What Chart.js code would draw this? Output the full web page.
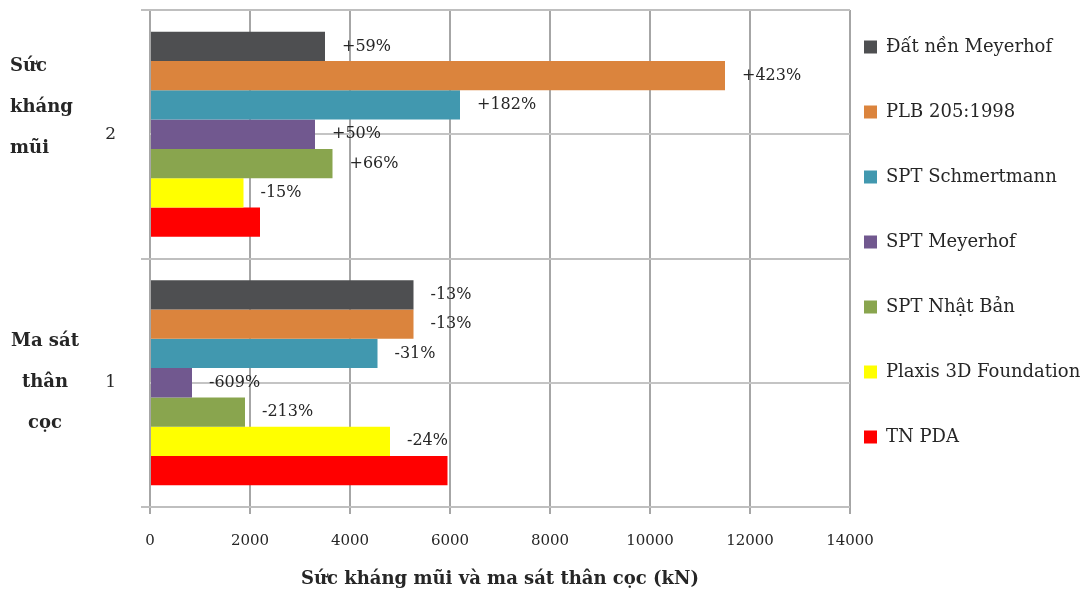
<!DOCTYPE HTML>
<html lang="vi">
<head>
    <meta charset="utf-8">
    <script src="https://cdn.jsdelivr.net/npm/chart.js@4.4.1/dist/chart.umd.min.js"></script>
    <style>
        body { margin: 0; background: #fff; }
        #khung { width: 1089px; height: 592px; }
    </style>
</head>
<body>
    <div id="khung"><canvas id="bieu-do-coc"></canvas></div>
<script>
    // nhóm trên trục: 2 = sức kháng mũi, 1 = ma sát thân cọc
    const nhom = ['2', '1']
    const tieuDeNhom = [['Sức', 'kháng', 'mũi'], ['Ma sát', 'thân', 'cọc']]

    const tenPhuongPhap = ['Đất nền Meyerhof', 'PLB 205:1998', 'SPT Schmertmann', 'SPT Meyerhof', 'SPT Nhật Bản', 'Plaxis 3D Foundation', 'TN PDA']

    // giá trị (kN) theo thứ tự nhóm [2, 1]
    const datNenMeyerhof = [3500, 5270]
    const plb205 = [11500, 5270]
    const sptSchmertmann = [6200, 4550]
    const sptMeyerhof = [3300, 840]
    const sptNhatBan = [3650, 1900]
    const plaxis3D = [1870, 4800]
    const tnPda = [2200, 5950]

    // chênh lệch so với TN PDA, theo thứ tự phương pháp
    const chenhLechMui = ['+59%', '+423%', '+182%', '+50%', '+66%', '-15%', '']
    const chenhLechThan = ['-13%', '-13%', '-31%', '-609%', '-213%', '-24%', '']

    const mocTrucX = [0, 2000, 4000, 6000, 8000, 10000, 12000, 14000]
    const tieuDeTrucX = 'Sức kháng mũi và ma sát thân cọc (kN)'

    const mau = ['#4e4f51', '#db843d', '#4198af', '#71588f', '#89a54e', '#ffff00', '#ff0000']
    const giaTri = [datNenMeyerhof, plb205, sptSchmertmann, sptMeyerhof, sptNhatBan, plaxis3D, tnPda]
    const chenhLech = [chenhLechMui, chenhLechThan]

    const FONT = '"DejaVu Serif", "Liberation Serif", serif'
    const MAU_CHU = '#262626'
    const CO_CHU_GIAI = 18

    // giữ mép phải vùng vẽ ở x = 850: chú giải rộng 239px
    const doChu = document.createElement('canvas').getContext('2d')
    doChu.font = CO_CHU_GIAI + 'px ' + FONT
    const rongChu = Math.max(...tenPhuongPhap.map(t => doChu.measureText(t).width))
    const rongGiai = 14 + 13 + CO_CHU_GIAI / 2 + rongChu + 10
    const demPhai = Math.max(0, 239 - rongGiai)

    const veNhan = {
        id: 'veNhan',
        afterDatasetsDraw(chart) {
            const ctx = chart.ctx
            ctx.save()
            ctx.fillStyle = MAU_CHU
            ctx.textBaseline = 'middle'
            ctx.textAlign = 'left'
            ctx.font = '16px ' + FONT
            chart.data.datasets.forEach((ds, i) => {
                chart.getDatasetMeta(i).data.forEach((cot, j) => {
                    const nhan = chenhLech[j][i]
                    if (nhan) ctx.fillText(nhan, cot.x + 17, cot.y)
                })
            })

            // tiêu đề nhóm bên trái
            const truc = chart.scales.y
            ctx.font = 'bold 18px ' + FONT
            const yMui = truc.getPixelForValue(0)
            ctx.textAlign = 'left'
            tieuDeNhom[0].forEach((dong, k) => ctx.fillText(dong, 10, yMui - 68 + k * 41))
            const yThan = truc.getPixelForValue(1)
            ctx.textAlign = 'center'
            tieuDeNhom[1].forEach((dong, k) => ctx.fillText(dong, 45, yThan - 41 + k * 41))
            ctx.restore()
        }
    }

    const crearDatos = () => tenPhuongPhap.map((ten, i) => ({
        label: ten,
        data: giaTri[i],
        backgroundColor: mau[i],
        borderWidth: 0,
        categoryPercentage: 0.825,
        barPercentage: 1
    }))

    new Chart(document.querySelector('#bieu-do-coc'), {
        type: 'bar',
        data: { labels: nhom, datasets: crearDatos() },
        options: {
            indexAxis: 'y',
            responsive: true,
            maintainAspectRatio: false,
            animation: false,
            layout: { padding: { top: 10, left: 0, right: demPhai, bottom: 0 } },
            scales: {
                x: {
                    min: 0,
                    max: 14000,
                    afterBuildTicks: s => { s.ticks = mocTrucX.map(v => ({ value: v })) },
                    afterFit: s => { s.height = 85 },
                    grid: { color: '#a6a6a6', lineWidth: 2, tickLength: 7 },
                    border: { display: false },
                    ticks: {
                        font: { family: FONT, size: 15 },
                        color: MAU_CHU,
                        padding: 18,
                        maxRotation: 0,
                        callback: v => String(v)
                    },
                    title: {
                        display: true,
                        text: tieuDeTrucX,
                        font: { family: FONT, size: 18, weight: 'bold' },
                        color: MAU_CHU,
                        padding: { top: 0, bottom: 2 }
                    }
                },
                y: {
                    offset: true,
                    afterFit: s => {
                        s.width = 150
                        s.paddingTop = 0
                        s.paddingBottom = 0
                    },
                    grid: { offset: true, color: '#bfbfbf', lineWidth: 2, tickLength: 9 },
                    border: { display: false },
                    ticks: { font: { family: FONT, size: 17 }, color: MAU_CHU, padding: 25 }
                },
                y2: {
                    type: 'category',
                    position: 'left',
                    offset: true,
                    afterFit: s => {
                        s.paddingTop = 0
                        s.paddingBottom = 0
                    },
                    grid: { offset: false, color: '#c4c4c4', lineWidth: 2, drawTicks: false },
                    border: { display: false },
                    ticks: { display: false }
                }
            },
            plugins: {
                tooltip: { enabled: false },
                legend: {
                    position: 'right',
                    align: 'center',
                    fullSize: false,
                    maxWidth: 239,
                    labels: {
                        boxWidth: 13,
                        boxHeight: 13,
                        padding: 14,
                        color: MAU_CHU,
                        font: { family: FONT, size: CO_CHU_GIAI, lineHeight: '51px' },
                        generateLabels: chart => Chart.defaults.plugins.legend.labels.generateLabels(chart)
                            .map(muc => ({ ...muc, text: [muc.text] }))
                    }
                }
            }
        },
        plugins: [veNhan]
    })
</script>
</body>
</html>
